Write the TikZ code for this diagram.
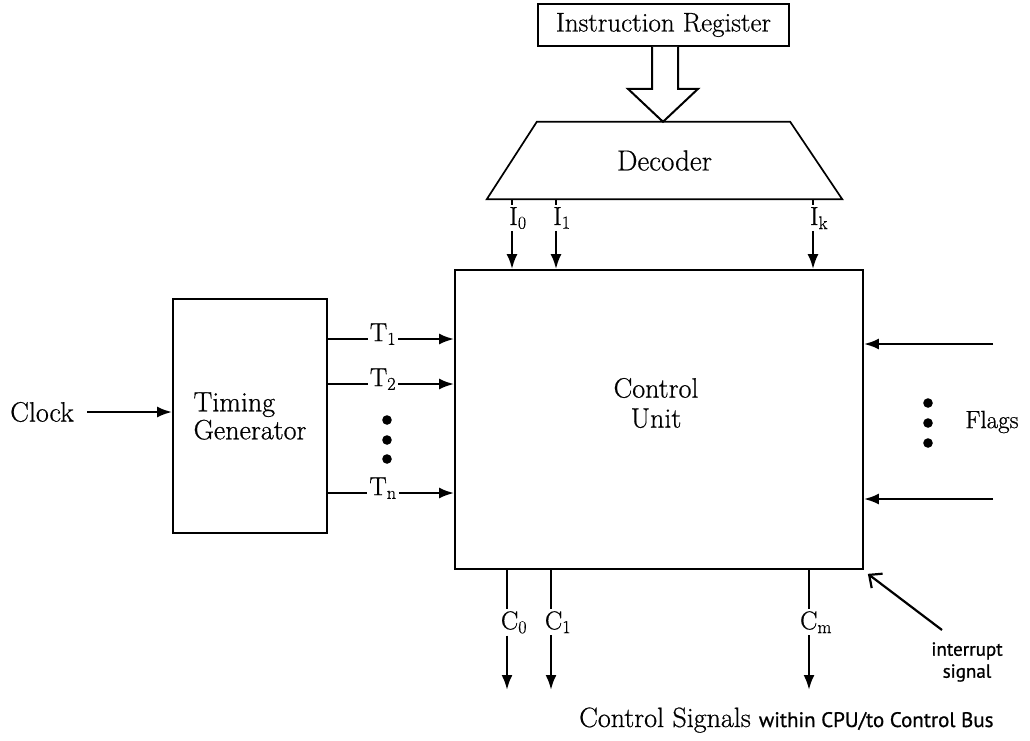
\documentclass[tikz,border=0pt]{standalone}
\usepackage{fontspec}
\setmainfont{Latin Modern Roman}[FakeBold=0.6]
\newfontfamily\handfont{PT Sans}[FakeBold=0.8]
\usetikzlibrary{arrows.meta,calc}
\begin{document}
\begin{tikzpicture}[x=1pt,y=-1pt,
  box/.style={draw, line width=1.7pt, inner sep=0pt},
  txt/.style={font=\fontsize{27}{31}\selectfont},
  lab/.style={inner sep=2pt, font=\fontsize{26}{28}\selectfont},
  sig/.style={line width=2.5pt},
  arr/.style={sig, -{Latex[length=15pt,width=11pt]}},
  hand/.style={font=\handfont\fontsize{19}{22}\selectfont}]
\useasboundingbox (0,0) rectangle (1030,740);

% Instruction register
\node[box, txt, minimum width=251pt, minimum height=42pt] (ir) at (663.5,25) {Instruction Register};

% Decoder
\node[font=\fontsize{29}{32}\selectfont, inner sep=0pt, minimum width=355pt, minimum height=77pt] (dec) at (664.5,160.5) {Decoder};
\draw[line width=1.7pt] (dec.south west) -- ($(dec.north west)+(50,0)$) -- ($(dec.north east)+(-52,0)$) -- (dec.south east) -- cycle;

% hollow bus arrow
\draw[line width=2pt, fill=white] ($(ir.south)+(-11.5,0)$) -- ($(ir.south)+(-11.5,42)$) -- ($(ir.south)+(-35.5,42)$)
  -- ($(dec.north)+(-1.5,0)$) -- ($(ir.south)+(34.5,42)$) -- ($(ir.south)+(14.5,42)$) -- ($(ir.south)+(14.5,0)$);

% Control unit
\node[box, minimum width=408pt, minimum height=299pt] (cu) at (659,419.5) {};
\node[align=center, font=\fontsize{28}{30}\selectfont] (cut) at (656,403) {Control\\Unit};

% Timing generator
\node[box, align=left, font=\fontsize{28}{28}\selectfont, minimum width=154pt, minimum height=234pt] (tg) at (250,416) {Timing\\Generator};

% Clock
\node[font=\fontsize{28}{30}\selectfont] (clk) at (42,412) {Clock};
\draw[arr] ([xshift=10pt]clk.east) -- (tg.west |- clk.east);

% T signals
\foreach \n/\y/\s in {t1/339/1, t2/384/2, tn/493/n} {
  \node[lab, anchor=mid] (\n) at (383,\y) {T\textsubscript{\s}};
  \draw[sig] (tg.east |- \n.mid west) -- (\n.mid west);
  \draw[arr] (\n.mid east) -- (cu.west |- \n.mid east);
}
\foreach \y in {420,440,459} \fill (387,\y) circle (4.8pt);

% I signals
\foreach \n/\x/\s in {i0/512/0, i1/556/1, ik/813/k} {
  \coordinate (x\n) at (\x,0);
  \node[lab, anchor=north] (\n) at (\x+6,205) {I\textsubscript{\s}};
  \draw[sig] (x\n |- dec.south) -- (x\n |- \n.north);
  \draw[arr] (x\n |- \n.south) -- (x\n |- cu.north);
}

% C signals
\foreach \n/\x/\s in {c0/507/0, c1/551/1, cm/809/m} {
  \coordinate (x\n) at (\x,0);
  \coordinate (e\n) at (\x,690);
  \node[lab, anchor=north] (\n) at (\x+7,609) {C\textsubscript{\s}};
  \draw[sig] (x\n |- cu.south) -- (x\n |- \n.north);
  \draw[arr] (x\n |- \n.south) -- (e\n);
}
\node[anchor=base west, inner sep=0pt] (cs) at (579,727) {\fontsize{28}{30}\selectfont Control Signals\hspace{8pt}{\handfont\fontsize{21}{22}\selectfont within CPU/to Control Bus}};

% Flags
\coordinate (f1) at (993,344);
\coordinate (f2) at (993,499);
\draw[arr] (f1) -- (cu.east |- f1);
\draw[arr] (f2) -- (cu.east |- f2);
\foreach \y in {403,423,443} \fill (928,\y) circle (4.8pt);
\node[font=\fontsize{25}{28}\selectfont] (flags) at (992,422) {Flags};

% interrupt
\node[hand, align=center] (intr) at (967,662) {interrupt\\signal};
\coordinate (it) at (942,630);
\draw[line width=2.2pt, -{Straight Barb[length=10pt,width=18pt]}] (it) -- ($(cu.south east)+(4,4)$);
\end{tikzpicture}
\end{document}
